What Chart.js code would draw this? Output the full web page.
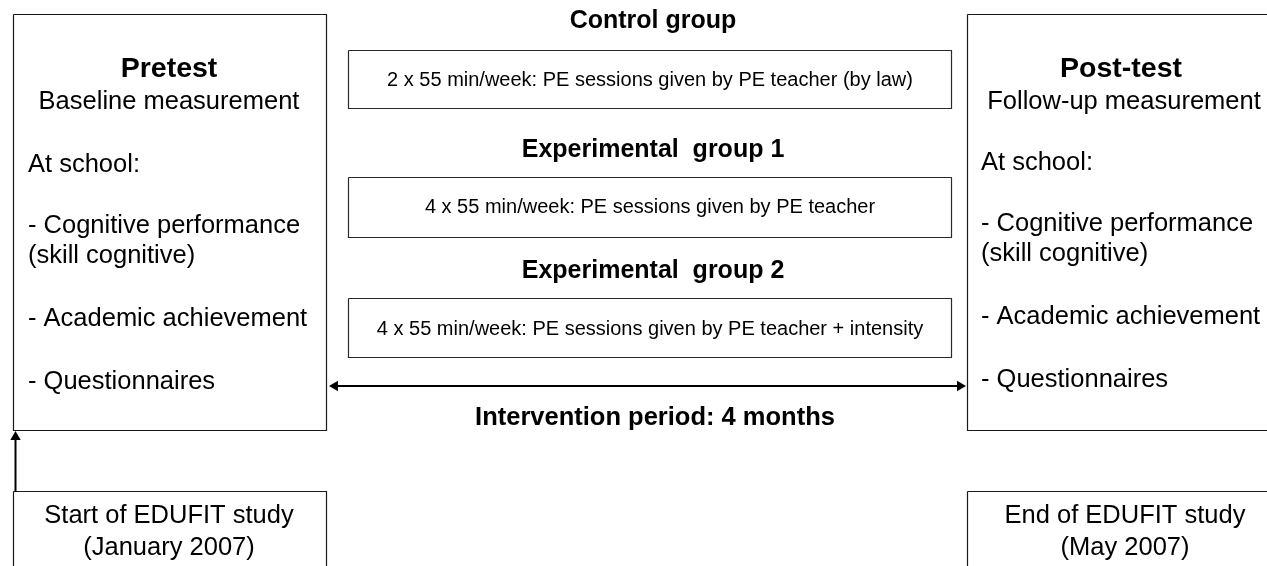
<!DOCTYPE html>
<html>
<head>
<meta charset="utf-8">
<script src="https://cdn.jsdelivr.net/npm/chart.js@4/dist/chart.umd.min.js"></script>
<style>
html,body{margin:0;padding:0;background:#fff;}
#wrap{position:relative;width:1267px;height:566px;}
</style>
</head>
<body>
<div id="wrap"><canvas id="c"></canvas></div>
<script>
// ---- content (text) ----
const groupHeadings = ["Control group", "Experimental  group 1", "Experimental  group 2"];
const groupSessions = [
  "2 x 55 min/week: PE sessions given by PE teacher (by law)",
  "4 x 55 min/week: PE sessions given by PE teacher",
  "4 x 55 min/week: PE sessions given by PE teacher + intensity"
];
const measureTitles = ["Pretest", "Post-test"];
const measureSubtitles = ["Baseline measurement", "Follow-up measurement"];
const measureItems = ["At school:", "- Cognitive performance", "(skill cognitive)", "- Academic achievement", "- Questionnaires"];
const milestoneLines1 = ["Start of EDUFIT study", "End of EDUFIT study"];
const milestoneLines2 = ["(January 2007)", "(May 2007)"];
const periodLabel = "Intervention period: 4 months";

// ---- layout (diagram coordinates, px units on hidden linear scales) ----
const layout = {
  measureBoxes: [[13.5, 14.5, 326.5, 430.5], [967.5, 14.5, 1272, 430.5]],
  sessionBoxes: [[348.5, 50.5, 951.5, 108.5], [348.5, 177.5, 951.5, 237.5], [348.5, 298.5, 951.5, 357.5]],
  milestoneBoxes: [[13.5, 491.5, 326.5, 580], [967.5, 491.5, 1272, 580]],
  measureTitleX: [169, 1121], measureTitleY: 77,
  measureSubX: [169, 1124], measureSubY: 109,
  measureItemX: [28, 981], measureItemDY: [0, -2],
  measureItemY: [172, 233, 263, 326, 389],
  headingX: 653, headingY: [28, 157, 278],
  sessionTextX: 650, sessionTextY: [86, 213, 335],
  periodX: 655, periodY: 425,
  milestoneX: [169, 1125], milestoneY: [523, 555],
  hArrow: {x0: 329, x1: 966, y: 386},
  vArrow: {x: 15.5, y0: 491, y1: 431}
};

function rectPts(b) {
  return [{x:b[0],y:b[1]},{x:b[2],y:b[1]},{x:b[2],y:b[3]},{x:b[0],y:b[3]},{x:b[0],y:b[1]}];
}
const datasets = [];
[...layout.measureBoxes, ...layout.milestoneBoxes].forEach(b => datasets.push({
  data: rectPts(b), showLine: true, borderColor: '#1a1a1a', borderWidth: 1.2,
  pointRadius: 0, fill: false, tension: 0, clip: false
}));
layout.sessionBoxes.forEach(b => datasets.push({
  data: rectPts(b), showLine: true, borderColor: '#2a2a2a', borderWidth: 1.2,
  pointRadius: 0, fill: false, tension: 0, clip: false
}));
const ha = layout.hArrow, va = layout.vArrow, r = 6;
datasets.push({ data: [{x:ha.x0 + 4, y:ha.y},{x:ha.x1 - 4, y:ha.y}], showLine: true,
  borderColor: '#000', borderWidth: 2, pointRadius: 0, clip: false });
datasets.push({ data: [{x:va.x, y:va.y0},{x:va.x, y:va.y1 + 4}], showLine: true,
  borderColor: '#000', borderWidth: 2, pointRadius: 0, clip: false });
datasets.push({ data: [{x:ha.x0 + r, y:ha.y},{x:ha.x1 - r, y:ha.y},{x:va.x, y:va.y1 + r}],
  showLine: false, pointStyle: 'triangle', rotation: [-90, 90, 0], pointRadius: r,
  backgroundColor: '#000', borderColor: '#000', borderWidth: 0, clip: false });

const textPlugin = {
  id: 'diagramText',
  afterDatasetsDraw(chart) {
    const ctx = chart.ctx, X = chart.scales.x, Y = chart.scales.y;
    const F = 'Liberation Sans, Arial, Helvetica, sans-serif';
    const put = (t, x, y, font, align) => {
      ctx.font = font; ctx.textAlign = align; ctx.textBaseline = 'alphabetic';
      ctx.fillStyle = '#000';
      ctx.fillText(t, X.getPixelForValue(x), Y.getPixelForValue(y));
    };
    ctx.save();
    for (let i = 0; i < 2; i++) {
      put(measureTitles[i], layout.measureTitleX[i], layout.measureTitleY, 'bold 28.5px ' + F, 'center');
      put(measureSubtitles[i], layout.measureSubX[i], layout.measureSubY, '25.5px ' + F, 'center');
      measureItems.forEach((t, k) => put(t, layout.measureItemX[i], layout.measureItemY[k] + layout.measureItemDY[i], '25.5px ' + F, 'left'));
      put(milestoneLines1[i], layout.milestoneX[i], layout.milestoneY[0], '25.5px ' + F, 'center');
      put(milestoneLines2[i], layout.milestoneX[i], layout.milestoneY[1], '25.5px ' + F, 'center');
    }
    groupHeadings.forEach((t, k) => put(t, layout.headingX, layout.headingY[k], 'bold 25px ' + F, 'center'));
    groupSessions.forEach((t, k) => put(t, layout.sessionTextX, layout.sessionTextY[k], '20px ' + F, 'center'));
    put(periodLabel, layout.periodX, layout.periodY, 'bold 25.5px ' + F, 'center');
    ctx.restore();
  }
};

new Chart(document.getElementById('c'), {
  type: 'scatter',
  data: { datasets },
  options: {
    responsive: true, maintainAspectRatio: false, animation: false,
    layout: { padding: 0, autoPadding: false },
    plugins: { legend: { display: false }, tooltip: { enabled: false } },
    scales: {
      x: { type: 'linear', min: 0, max: 1267, display: false },
      y: { type: 'linear', min: 0, max: 566, reverse: true, display: false }
    }
  },
  plugins: [textPlugin]
});
</script>
</body>
</html>
